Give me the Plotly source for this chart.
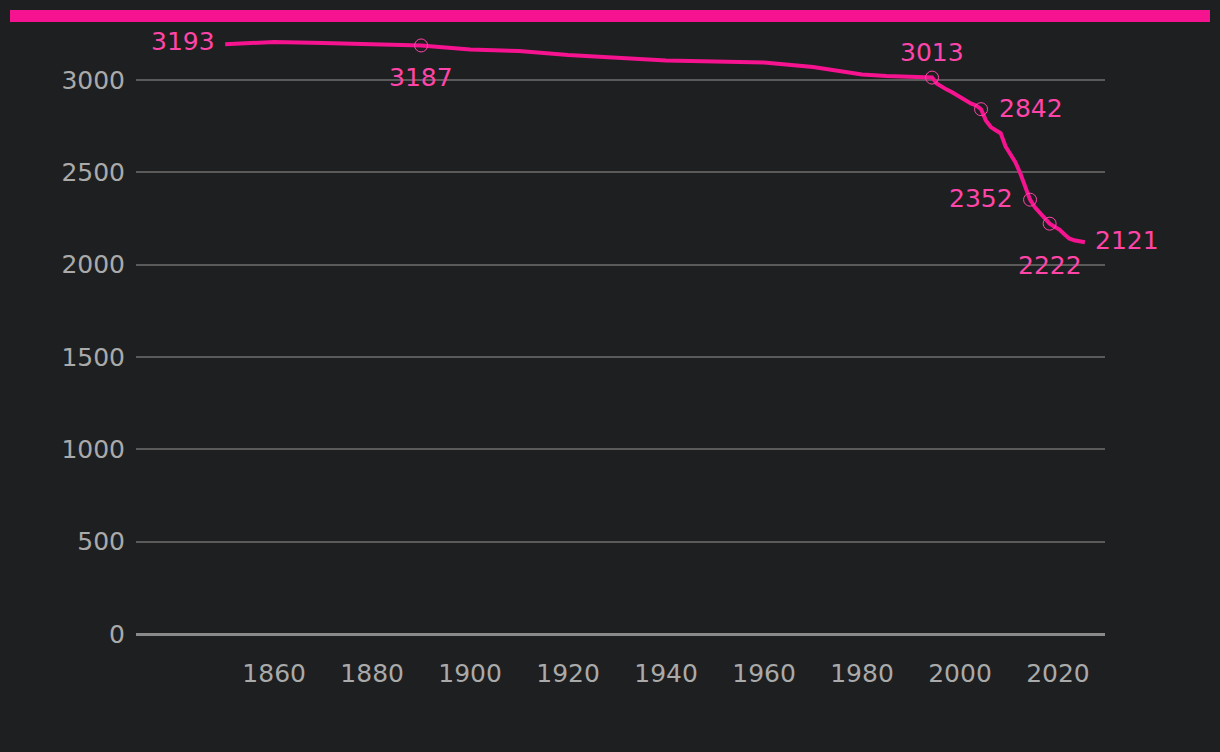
import plotly.graph_objects as go

years = [1850, 1860, 1870, 1880, 1890, 1900, 1910, 1920, 1930, 1940, 1950, 1960, 1970, 1975, 1980, 1985, 1990,
         1994.3, 1995.3, 1996.3, 1997.3, 1998.3, 1999.3, 2000.3, 2001.3, 2002.3, 2003.3, 2004.3, 2005.3, 2006.3,
         2007.3, 2008.3, 2009.3, 2010.3, 2011.3, 2012.3, 2013.3, 2014.3, 2015.3, 2016.3, 2017.3, 2018.3, 2019.3,
         2020.3, 2021.3, 2022.3, 2023.3, 2024.3, 2025.5]
population = [3193, 3206, 3200, 3193, 3187, 3165, 3157, 3135, 3119, 3105, 3100, 3095, 3070, 3049, 3030, 3022, 3019,
              3013, 2980, 2962, 2948, 2935, 2920, 2905, 2885, 2872, 2862, 2842, 2780, 2745,
              2728, 2712, 2640, 2598, 2555, 2495, 2415, 2352, 2310, 2278, 2250, 2222, 2205,
              2190, 2165, 2142, 2132, 2126, 2121]

marked_years = [1890, 1994.3, 2004.3, 2014.3, 2018.3]
marked_values = [3187, 3013, 2842, 2352, 2222]

label_years = [1850, 1890, 1994.3, 2004.3, 2014.3, 2018.3, 2025.5]
label_values = [3193, 3187, 3013, 2842, 2352, 2222, 2121]

x_ticks = [1860, 1880, 1900, 1920, 1940, 1960, 1980, 2000, 2020]
y_ticks = [0, 500, 1000, 1500, 2000, 2500, 3000]

# label placement (style): (xanchor, xshift px, yshift px downward)
label_style = [("right", -9, -3), ("center", 0, 32), ("center", 0, -25), ("left", 17, -1),
               ("right", -16, -1), ("center", 0, 42), ("left", 9, -2)]

BG = "#1e1f21"
LINE = "#f5138f"
LABEL = "#ff45a8"
TICK = "#aaaaaa"
FONT = "DejaVu Sans"
FS = 25

W, H = 1220, 752
L, R, T, B = 136, 1105, 30, 634

fig = go.Figure()
fig.add_trace(go.Scatter(x=years, y=population, mode="lines",
                         line=dict(color=LINE, width=4),
                         hoverinfo="skip", showlegend=False))
fig.add_trace(go.Scatter(x=marked_years, y=marked_values, mode="markers",
                         marker=dict(symbol="circle-open", size=13, color=LABEL, line=dict(width=1, color=LABEL)),
                         showlegend=False))

for yr, v, (xa, dx, dy) in zip(label_years, label_values, label_style):
    fig.add_annotation(x=yr, y=v, text=str(v), showarrow=False, xshift=dx, yshift=-dy,
                       xanchor=xa, yanchor="middle", borderpad=0,
                       font=dict(family=FONT, size=FS, color=LABEL))

def px_x(p):
    return (p - L) / (R - L)

def px_y(p):
    return (B - p) / (B - T)

fig.add_shape(type="rect", xref="paper", yref="paper",
              x0=px_x(10), x1=px_x(1210), y0=px_y(22), y1=px_y(10),
              fillcolor=LINE, line=dict(width=0))

fig.update_layout(
    width=W, height=H, paper_bgcolor=BG, plot_bgcolor=BG,
    margin=dict(l=L, r=W - R, t=T, b=H - B, autoexpand=False),
    font=dict(family=FONT, size=FS, color=TICK),
    xaxis=dict(range=[1831.8, 2029.6], tickvals=x_ticks, showgrid=False, zeroline=False,
               showline=False, ticks="outside", ticklen=17, tickcolor="rgba(0,0,0,0)",
               tickfont=dict(family=FONT, size=FS, color=TICK)),
    yaxis=dict(range=[0, (B - T) / 0.18467], tickvals=y_ticks, showgrid=True, gridcolor="#5a5a5a",
               gridwidth=1.5, zeroline=True, zerolinecolor="#8a8a8a", zerolinewidth=3,
               ticks="outside", ticklen=5, tickcolor="rgba(0,0,0,0)",
               tickfont=dict(family=FONT, size=FS, color=TICK)),
    hovermode=False,
)

fig.write_html("out.html", config={"displayModeBar": False},
               post_script="document.body.style.margin='0';document.body.style.background='#1e1f21';document.body.style.overflow='hidden';")
